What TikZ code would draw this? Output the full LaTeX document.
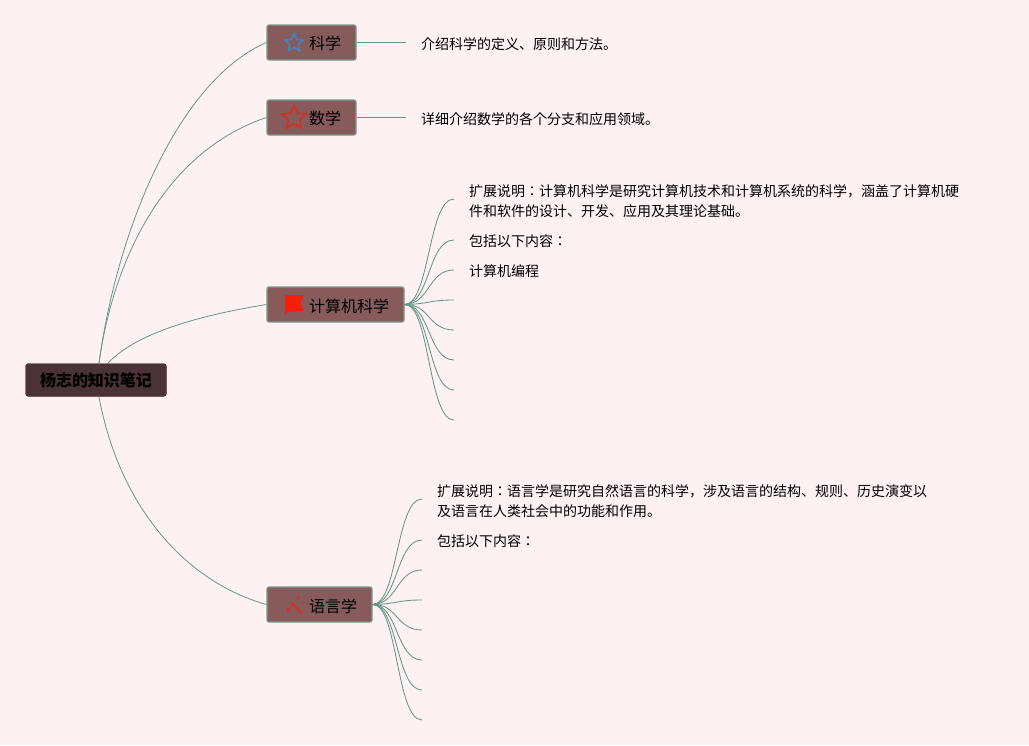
\documentclass[tikz,border=0pt]{standalone}
\usepackage{fontspec}
\setmainfont{Noto Sans CJK JP}
\usetikzlibrary{shapes.geometric,calc}
\definecolor{bgc}{HTML}{FEF1F2}
\definecolor{linkc}{HTML}{64998A}
\definecolor{topicc}{HTML}{875A5C}
\definecolor{topicb}{HTML}{789A8C}
\definecolor{rootc}{HTML}{4A3236}
\definecolor{iconblue}{HTML}{3F86C0}
\definecolor{iconred}{HTML}{CF3226}
\definecolor{flagred}{HTML}{F5200C}
\tikzset{
  rootbox/.style={draw=rootc,fill=rootc,rounded corners=3pt,minimum width=141pt,minimum height=33pt,inner sep=0pt,font=\fontsize{16}{18}\selectfont\bfseries,text=black},
  topicbox/.style={draw=topicb,line width=1.2pt,fill=topicc,rounded corners=2pt,minimum height=35pt,inner sep=0pt},
  topicfont/.style={inner sep=0pt,font=\fontsize{16}{18}\selectfont,text=black,anchor=west},
  leaftext/.style={inner sep=0pt,anchor=west,align=left,font=\fontsize{14}{20}\selectfont,text=black},
  link/.style={draw=linkc,line width=0.8pt},
  sublink/.style={draw=linkc,line width=0.85pt},
}
\begin{document}
\begin{tikzpicture}[x=1pt,y=-1pt]
\fill[bgc] (0,0) rectangle (1029,745);
\useasboundingbox (0,0) rectangle (1029,745);
% root
\node[rootbox] (root) at (96,380) {\raisebox{-1pt}{杨志的知识笔记}};
\coordinate (rootA) at (99,363);
\coordinate (rootB) at (108,363);
\coordinate (rootC) at (99,397);
% topics
\node[topicbox,minimum width=89pt] (sci) at (311.5,42.5) {};
\node[topicbox,minimum width=89pt] (math) at (311.5,117.5) {};
\node[topicbox,minimum width=137pt] (cs) at (335.5,304.5) {};
\node[topicbox,minimum width=105pt] (lang) at (319.5,604.5) {};
\node[topicfont] (scit) at (309,43) {科学};
\node[topicfont] (matht) at (309,118) {数学};
\node[topicfont] (cst) at (309,306) {计算机科学};
\node[topicfont] (langt) at (309,606) {语言学};
% icons
\node[star,star points=5,star point ratio=2.1,draw=iconblue,line width=1.5pt,minimum size=19pt,inner sep=0pt] (icona) at (294,43) {};
\node[star,star points=5,star point ratio=2.1,draw=iconred,line width=1.7pt,minimum size=25pt,inner sep=0pt] (iconb) at (294,118) {};
\node[inner sep=0pt,minimum size=1pt] (iconc) at (294,304) {};
\fill[flagred] (285,295) -- (304,295) -- (300.5,303) -- (304,311) -- (287,312) -- (285,315) -- cycle;
\node[inner sep=0pt,minimum size=1pt] (icond) at (294,605) {};
\draw[iconred,line width=1.9pt] (291,602.5) -- (302,613.5);
\fill[iconred] (298,598) circle (1.6pt) (288,610) circle (2pt) (302,603) circle (.8pt);
\draw[iconred,line width=1pt] (287,610) -- (293,605);
% root links
\draw[link] (rootA) .. controls (118,225) and (180,80) .. (sci.west);
\draw[link] (rootA) .. controls (115,250) and (170,150) .. (math.west);
\draw[link] (rootB) .. controls (135,335) and (190,317) .. (cs.west);
\draw[link] (rootC) .. controls (118,500) and (180,580) .. (lang.west);
% leaf links
\coordinate (sciend) at (406,42.5);
\coordinate (mathend) at (406,117.5);
\draw[link] (sci.east) -- (sciend);
\draw[link] (math.east) -- (mathend);
% leaf texts
\node[leaftext] (sciL) at (421,44) {介绍科学的定义、原则和方法。};
\node[leaftext] (mathL) at (421,119) {详细介绍数学的各个分支和应用领域。};
\node[leaftext] (cs1) at (469,201) {扩展说明：计算机科学是研究计算机技术和计算机系统的科学，涵盖了计算机硬\\件和软件的设计、开发、应用及其理论基础。};
\node[leaftext] (cs2) at (469,241) {包括以下内容：};
\node[leaftext] (cs3) at (469,271) {计算机编程};
\node[leaftext] (la1) at (437,501) {扩展说明：语言学是研究自然语言的科学，涉及语言的结构、规则、历史演变以\\及语言在人类社会中的功能和作用。};
\node[leaftext] (la2) at (437,541) {包括以下内容：};
% cs branches
\foreach \n/\y in {a/199,b/240,c/270,d/300,e/330,f/360,g/390,h/420}{
  \coordinate (cs\n) at (454,\y);
  \draw[sublink] (cs.east) .. controls (430,304) and (428,\y) .. (cs\n);
}
% language branches
\foreach \n/\y in {a/499,b/540,c/570,d/600,e/630,f/660,g/690,h/720}{
  \coordinate (la\n) at (422,\y);
  \draw[sublink] (lang.east) .. controls (398,604) and (396,\y) .. (la\n);
}
\end{tikzpicture}
\end{document}
